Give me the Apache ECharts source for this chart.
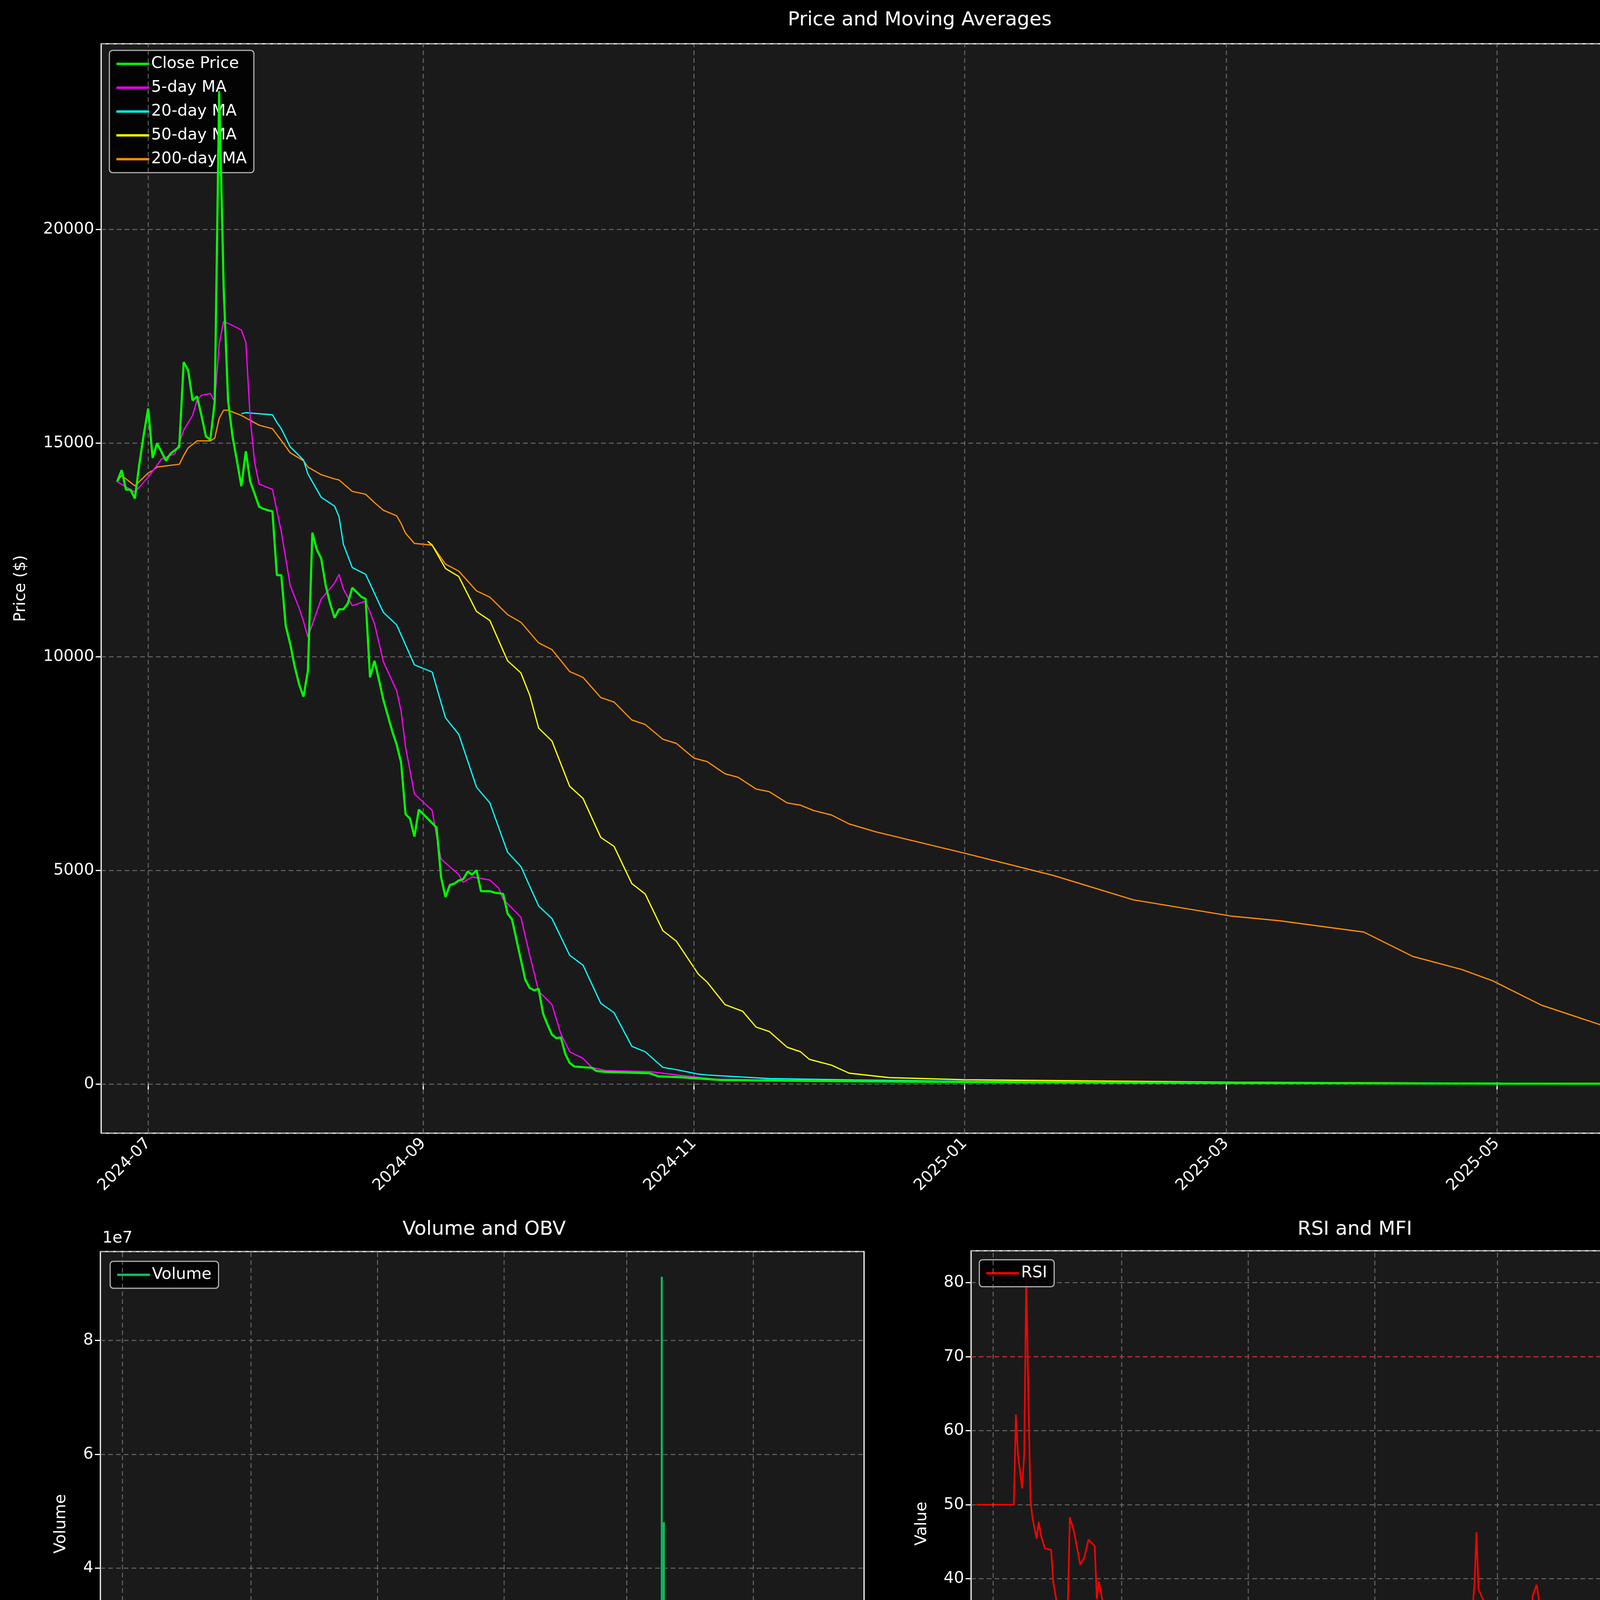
<!DOCTYPE html>
<html>
<head>
<meta charset="utf-8">
<script src="https://cdn.jsdelivr.net/npm/echarts@6/dist/echarts.min.js"></script>
<style>
html, body { margin: 0; padding: 0; background: #000; }
#main { width: 4470px; height: 6507px; }
</style>
</head>
<body>
<div id="main"></div>
<script>
// days counted from 2024-07-01
var DAY0 = Date.UTC(2024, 6, 1);
var tickDates = ['2024-07-01', '2024-09-01', '2024-11-01', '2025-01-01', '2025-03-01', '2025-05-01'];

var closeDay = [-7,-6,-5,-4,-3,-2,-1,0,1,2,3,4,5,6,7,8,9,10,11,12,13,14,15,16,17,18,19,20,21,22,23,24,25,26,27,28,29,30,31,32,33,34,35,36,37,38,39,40,41,42,43,44,45,46,47,48,49,50,51,52,53,54,55,56,57,58,59,60,61,63,65,66,67,68,69,70,71,72,73,74,75,76,77,78,80,81,82,83,84,85,86,87,88,89,90,91,92,93,94,95,96,100,101,103,113,115,120,129,150,170,185,215,245,275,305,335,354];
var closeVal = [14094,14364,13907,13907,13700,14500,15200,15807,14650,14992,14790,14584,14750,14830,14910,16892,16705,15995,16093,15644,15155,15073,15970,23230,18662,15995,15155,14584,13988,14804,14094,13809,13507,13458,13425,13401,11906,11906,10720,10301,9777,9357,9063,9672,12903,12504,12294,11665,11245,10909,11109,11109,11245,11612,11507,11402,11350,9514,9902,9462,8990,8623,8256,7941,7521,6315,6210,5790,6420,6210,6000,4846,4374,4657,4689,4762,4794,4972,4898,5003,4511,4511,4511,4479,4448,3986,3850,3378,2906,2434,2245,2192,2224,1647,1385,1154,1070,1091,703,493,409,378,304,283,252,178,157,94,70,55,45,32,22,15,10,6,5];

var ma5Day = [-7,-3,0,3,6,7,8,10,11,12,14,15,16,17,19,21,22,23,24,25,28,30,32,34,35,36,39,42,43,44,46,49,51,53,56,57,58,60,64,65,66,70,71,73,77,79,80,84,86,88,91,93,95,98,100,103,113,120,128,150,185,245,305,354];
var ma5Val = [14094,13850,14200,14625,14750,14992,15300,15644,16000,16117,16157,15970,17316,17846,17750,17643,17357,15562,14543,14037,13915,12924,11665,11140,10825,10458,11350,11717,11927,11581,11193,11298,10773,9882,9200,8728,7888,6787,6399,5790,5266,4898,4720,4846,4773,4584,4322,3902,3011,2171,1857,1175,755,598,388,315,290,200,110,75,50,25,12,6];

var ma20Day = [21,22,25,28,29,30,32,35,36,39,42,43,44,46,49,53,56,60,64,67,70,74,77,81,84,88,91,95,98,102,105,109,112,116,119,124,126,140,159,185,245,305,354];
var ma20Val = [15685,15709,15685,15660,15481,15334,14910,14600,14274,13728,13523,13279,12626,12084,11927,11035,10742,9808,9640,8570,8182,6944,6577,5423,5088,4164,3871,3011,2780,1888,1668,881,755,388,336,231,210,126,94,60,30,15,8];

var ma50Day = [63,64,67,70,74,77,81,84,86,88,91,95,98,102,105,109,112,116,119,124,126,130,134,137,140,144,147,149,154,158,167,184,245,305,354];
var ma50Val = [12700,12609,12063,11874,11056,10846,9903,9619,9095,8329,8025,6965,6682,5770,5560,4689,4448,3588,3346,2570,2381,1857,1699,1332,1227,860,755,577,441,252,150,100,40,15,5];

var ma200Day = [-7,-6,-3,0,1,2,7,8,9,11,14,15,16,17,18,21,25,28,30,32,35,36,39,42,43,46,49,51,53,56,57,58,60,64,67,70,74,77,81,84,88,91,95,98,102,105,109,112,116,119,123,126,130,133,137,140,144,147,150,154,158,164,184,204,222,244,255,274,285,296,303,314,325,336,347,354];
var ma200Val = [14094,14240,13996,14298,14355,14437,14502,14706,14886,15049,15049,15114,15579,15766,15766,15644,15416,15334,15057,14771,14584,14437,14257,14159,14135,13866,13800,13605,13425,13295,13116,12887,12650,12609,12168,12000,11539,11392,10983,10804,10322,10165,9651,9514,9042,8937,8518,8413,8067,7972,7626,7542,7259,7175,6902,6839,6577,6525,6399,6294,6084,5900,5400,4880,4310,3930,3820,3555,2985,2680,2415,1845,1465,1085,785,520];

var volDay = [196,198,199,221,224,225,226,227,228,232,233,234,235,238,239,240,242,245,247,248,254,255,256,259,260,261,262,263,266,267,270,279,282,283,284,287,288,290,294,308,309,310,323,339,345];
var volVal = [3e5,5.5e5,1.1e6,4e5,6e5,7e5,7e5,6.5e5,4e5,3.8e6,2.4e6,7e5,1e6,4.5e5,3e5,4e5,5e5,3e5,7e5,5e5,4e5,5e5,9.5e5,7e5,9.12e7,4.81e7,1.72e7,1e6,7e5,4e5,3e5,4e5,2.7e6,4e5,5e5,4.1e6,3e5,7e5,4e5,1.1e6,8e5,2e5,2e5,2e5,2e5];

var rsiDay = [-8,10,11,12,14,15,16,17,18,19,21,22,23,25,28,29,31,33,35,36,37,39,42,44,46,49,50,51,53,55,57,59,60,63,65,66,67,69,71,73,74,78,80,82,84,86,87,88,91,92,94,98,105,111,115,120,127,130,132,137,141,145,147,149,151,153,157,158,162,165,168,170,172,176,178,182,183,186,190,191,193,196,198,200,204,206,207,209,211,214,217,218,220,222,224,226,228,229,232,233,234,236,238,239,240,242,244,246,247,248,250,252,253,254,256,259,260,262,264,267,269,270,274,276,278,282,285,289,290,294,295,301,302,304,308,310,312,316,317,319,323,325,326,331,333,336,337,338,339,341,343,346,347,350,352,354];
var rsiVal = [50,50,62.2,56.8,52.2,56.8,81,64.8,50.7,48.2,45.4,47.7,45.9,44.1,43.9,39.6,36.3,34,32.1,36.1,48.3,46.4,41.9,42.9,45.3,44.4,37.3,39.6,36.6,33.5,31.3,27,31.3,30,26.5,25.7,27.6,28.5,30,30.8,29,28.7,26.5,24.4,21.7,19.9,20.2,18.4,16.9,17.3,15.5,15.3,15,15.4,14.8,14.6,14.3,13.9,14.2,14.1,14.8,16.4,18.1,17.6,19.4,19.4,19.1,19.5,19.9,20.4,19.4,17.9,16.4,16.4,17.6,18.6,19.1,21.9,21.2,19.6,20.2,19.4,18,19.9,18.6,18,19.9,19.1,21.7,20.9,22.2,20.5,19.4,20.9,27.7,25.2,21.4,29,39.1,46.3,38.6,37.3,36.3,34.3,35.7,32.5,30.8,29.6,33.8,32.3,33,34,36.3,35.6,26.5,26,37.6,39.2,35.6,34.6,33.8,32,31.3,34.8,32.8,30.3,29.5,28.7,30.3,29.8,30.3,30.3,29.6,30.8,30.6,28.5,28,29.2,28.4,29.5,32.5,33.5,32.8,31.8,29.2,28,33,34,32.3,35.3,34.8,33.5,32.3,32.3,34.1,31.8];

var macdDay = [-7,28.2,28.7,30,30.9,31.9,33,34.6,35.9,37.3,39.1,42,43.9,46,48.7,50,52.2,54,55.9,57.2,58.5,59.9,63.9,65.2,66.8,69.7,71.8,73.2,77.2,79.3,80.9,83.8,86,89.9,93.7,97.9,101.7,104.6,106.4,108.6,111.5,113.4,115.5,118.4,120.8,122.4,125.9,127.7,129.6,132.5,134.4,136.5,140,143.7,146.4,149,152.5,157,160.5,164.5,168.4,173.8,180.4,187,199,215,242.4,303,353.4];
var macdVal = [0,0,-410,-585,-803,-1012,-1120,-1254,-1354,-1137,-995,-1028,-995,-920,-869,-986,-1120,-1220,-1287,-1455,-1705,-1764,-1822,-1973,-2077,-2077,-1956,-1873,-1822,-1689,-1635,-1680,-1764,-1822,-1876,-1843,-1639,-1575,-1455,-1287,-1212,-1070,-961,-911,-803,-711,-669,-585,-518,-485,-418,-368,-348,-259,-242,-204,-181,-134,-122,-89,-70,-59,-42,-33,-20,-12,-5,-1,0];

var signalDay = [-7,38.3,38.9,42,44.2,46,49.2,52.2,54.5,56.1,58,59.9,62,63.9,65.5,66.5,69.2,71.8,73.2,77.2,79.3,81.2,84.6,87.3,91.3,93.9,98.5,101.7,104.6,106.4,108.6,111.5,113.4,115.5,118.4,120.8,122.4,125.1,127.7,129.6,132.5,134.6,136.8,140,143.7,146.4,149,152.5,157,160.5,164.5,168.4,173.8,180.4,187,199,215,242.4,303,353.4];
var signalVal = [0,0,-966,-981,-995,-970,-953,-1017,-1053,-1087,-1321,-1413,-1455,-1493,-1672,-1756,-1822,-1889,-1893,-1873,-1797,-1756,-1742,-1756,-1772,-1822,-1831,-1756,-1722,-1647,-1513,-1455,-1371,-1204,-1145,-1053,-923,-869,-752,-686,-649,-569,-507,-468,-359,-343,-293,-259,-192,-176,-134,-100,-84,-67,-50,-33,-20,-8,-2,0];

var vwapDay = [-7,-6,-3,0,7,8,14,15,16,21,30,36,37,44,55,62,65,79,81,84,87,89,91,93,94,99,105,106,113,121,124,140,167,178,195,208,236,263,354];
var vwapVal = [14256,14430,14007,15003,15127,15749,15823,23089,23200,22840,22715,22600,16993,16744,16670,16570,16371,16247,15674,15376,14878,13634,12888,6170,1692,1443,1393,1120,945,821,697,572,497,448,199,149,75,25,0];

var bbUpDay = [-7,14,16,20,25,29,33,40,44,48,52,56,59,63,65,69,79,82,86,90,93,96,99,102,105,107,109,111,114,116,118,121,124,129,140,154,167,181,192,201,208,216,225,244,263,354];
var bbUpVal = [23263,23263,25328,26695,27070,26820,26572,26074,25826,25328,23586,22093,20600,19481,16993,16918,16744,16918,17117,17739,22342,22840,23462,23089,22467,21098,18610,17490,14878,9902,7414,1692,1443,1194,896,746,697,647,746,697,572,274,199,149,75,25];

var bbLoDay = [-7,21,24,26,29,32,35,37,40,43,44,47,51,55,57,61,63,65,69,79,84,89,93,96,99,102,105,107,109,112,114,116,118,121,126,140,154,167,181,195,208,354];
var bbLoVal = [10027,10027,10773,11395,12141,13509,13883,14878,15624,16072,15127,14381,13435,13336,13634,14505,14629,16371,16371,16122,15624,14132,8658,3682,-50,-2787,-3782,-5026,-5897,-6145,-5523,-4031,-3035,697,647,746,672,572,299,149,75,0];

function ts(d) { return DAY0 + d * 86400000; }
function pairs(days, vals) {
	var arr = [];
	for (var i = 0; i < Math.min(days.length, vals.length); i++) arr.push([ts(days[i]), vals[i]]);
	return arr;
}

var xMin = ts(-10.6), xMax = ts(357.5);
var tickTs = tickDates.map(function(s) { return Date.parse(s + 'T00:00:00Z'); });
var FONT = 'DejaVu Sans';
var FS = 41;
var GRIDLINE = {color: 'rgba(128,128,128,0.75)', type: [12, 8], width: 2.5};

function minus(v) { return String(v).replace('-', '\u2212'); }

var grids = [
	{left: 259, top: 112, width: 4181, height: 2789},
	{left: 257, top: 3204, width: 1955, height: 1394},
	{left: 2486, top: 3202, width: 1955, height: 1397},
	{left: 259, top: 4898, width: 1953, height: 1396},
	{left: 2487, top: 4898, width: 1950, height: 1397}
];
grids.forEach(function(g) {
	g.show = true; g.backgroundColor = '#1a1a1a'; g.borderColor = '#fff'; g.borderWidth = 3;
});

function xAxisFor(i) {
	return {
		type: 'value', gridIndex: i, min: xMin, max: xMax,
		axisLine: {show: false},
		axisTick: {show: true, length: 14, lineStyle: {color: '#fff', width: 3}, customValues: tickTs},
		axisLabel: {
			color: '#fff', fontSize: FS, fontFamily: FONT, rotate: 45, margin: 20,
			customValues: tickTs,
			formatter: function(v) {
				var d = new Date(v);
				var m = d.getUTCMonth() + 1;
				return d.getUTCFullYear() + '-' + (m < 10 ? '0' + m : m);
			}
		},
		splitLine: {show: false}
	};
}

function yAxisFor(i, min, max, split, name, gap, fmt, showMin) {
	return {
		type: 'value', gridIndex: i, min: min, max: max, splitNumber: split,
		name: name, nameLocation: 'middle', nameGap: gap, nameRotate: 90,
		nameTextStyle: {color: '#fff', fontSize: FS, fontFamily: FONT},
		axisLine: {show: false},
		axisTick: {show: true, length: 14, lineStyle: {color: '#fff', width: 3}},
		axisLabel: {color: '#fff', fontSize: FS, fontFamily: FONT, margin: 18,
			showMinLabel: !!showMin, showMaxLabel: false, formatter: fmt || minus},
		splitLine: {show: true, lineStyle: GRIDLINE}
	};
}

function vGrid(i) {
	return {
		name: 'vgrid' + i, type: 'line', xAxisIndex: i, yAxisIndex: i, data: [], silent: true,
		markLine: {
			silent: true, symbol: 'none', label: {show: false}, animation: false,
			lineStyle: GRIDLINE,
			data: tickTs.map(function(t) { return {xAxis: t}; })
		}
	};
}

function line(name, i, data, color, width, extra) {
	var s = {
		name: name, type: 'line', xAxisIndex: i, yAxisIndex: i, data: data,
		showSymbol: false, symbol: 'none', animation: false,
		lineStyle: {color: color, width: width}, itemStyle: {color: color}
	};
	for (var k in extra) s[k] = extra[k];
	return s;
}

function legendAt(left, top, names) {
	return {
		data: names, left: left, top: top, orient: 'vertical',
		backgroundColor: 'rgba(0,0,0,0.85)', borderColor: '#b0b0b0', borderWidth: 3, borderRadius: 8,
		padding: [14, 18], itemGap: 20, itemWidth: 84, itemHeight: 6, icon: 'rect',
		textStyle: {color: '#fff', fontSize: FS, fontFamily: FONT}
	};
}

var upperPts = pairs(bbUpDay, bbUpVal);
var lowerPts = pairs(bbLoDay, bbLoVal);

var chart = echarts.init(document.getElementById('main'));
chart.setOption({
	backgroundColor: '#000',
	animation: false,
	title: [
		{text: 'Price and Moving Averages', left: 259 + 4181 / 2, top: 22, textAlign: 'center'},
		{text: 'Volume and OBV', left: 257 + 1955 / 2, top: 3118, textAlign: 'center'},
		{text: 'RSI and MFI', left: 2486 + 1955 / 2, top: 3118, textAlign: 'center'},
		{text: 'MACD', left: 259 + 1953 / 2, top: 4812, textAlign: 'center'},
		{text: 'VWAP with Bollinger Bands', left: 2487 + 1950 / 2, top: 4812, textAlign: 'center'}
	].map(function(t) {
		t.textStyle = {color: '#fff', fontSize: 50, fontWeight: 'normal', fontFamily: FONT};
		return t;
	}),
	graphic: [{type: 'text', left: 262, top: 3150, style: {text: '1e7', fill: '#fff', fontSize: FS, fontFamily: FONT}}],
	legend: [
		legendAt(280, 129, ['Close Price', '5-day MA', '20-day MA', '50-day MA', '200-day MA']),
		legendAt(282, 3229, ['Volume']),
		legendAt(2507, 3225, ['RSI']),
		legendAt(278, 4920, ['MACD', 'Signal']),
		legendAt(2507, 4920, ['Close Price ', 'VWAP', 'VWAP BB Upper', 'VWAP BB Lower'])
	],
	grid: grids,
	xAxis: [0, 1, 2, 3, 4].map(xAxisFor),
	yAxis: [
		yAxisFor(0, -1152, 24342, 5, 'Price ($)', 185, null, false),
		yAxisFor(1, 0, 9.56e7, 5, 'Volume', 80, function(v) { return String(Math.round(v / 1e7)); }, true),
		yAxisFor(2, 10.6, 84.3, 5, 'Value', 105, null, false),
		yAxisFor(3, -2182, 105, 5, 'Value', 190, null, false),
		yAxisFor(4, -7826, 28497, 7, 'Price ($)', 190, null, false)
	],
	series: [
		vGrid(0), vGrid(1), vGrid(2), vGrid(3), vGrid(4),
		line('Close Price', 0, pairs(closeDay, closeVal), '#00ff00', 5.5, {z: 6}),
		line('5-day MA', 0, pairs(ma5Day, ma5Val), '#ff00ff', 3.2, {z: 5}),
		line('20-day MA', 0, pairs(ma20Day, ma20Val), '#00ffff', 3.2, {z: 4}),
		line('50-day MA', 0, pairs(ma50Day, ma50Val), '#ffff00', 3.2, {z: 3}),
		line('200-day MA', 0, pairs(ma200Day, ma200Val), '#ff8c00', 3.2, {z: 2}),
		{
			name: 'Volume', type: 'bar', xAxisIndex: 1, yAxisIndex: 1, barWidth: 5,
			data: pairs(volDay, volVal), itemStyle: {color: '#0cbf62'}, animation: false
		},
		line('RSI', 2, pairs(rsiDay, rsiVal), '#ff0000', 4.2, {
			markLine: {
				silent: true, symbol: 'none', label: {show: false},
				data: [
					{yAxis: 70, lineStyle: {color: 'rgba(255,0,0,0.5)', type: [12, 8], width: 3.5}},
					{yAxis: 30, lineStyle: {color: 'rgba(0,160,0,0.5)', type: [12, 8], width: 3.5}}
				]
			}
		}),
		line('MACD', 3, pairs(macdDay, macdVal), '#ff8c00', 5, {z: 4}),
		line('Signal', 3, pairs(signalDay, signalVal), '#18ff8c', 5, {z: 3}),
		{
			name: 'band', type: 'custom', xAxisIndex: 4, yAxisIndex: 4, data: [[xMin, 0]], silent: true, z: 1,
			renderItem: function(params, api) {
				var pts = [];
				upperPts.forEach(function(p) { pts.push(api.coord(p)); });
				for (var i = lowerPts.length - 1; i >= 0; i--) pts.push(api.coord(lowerPts[i]));
				return {type: 'polygon', shape: {points: pts}, style: {fill: 'rgba(128,128,128,0.12)', stroke: 'none'}};
			}
		},
		line('Close Price ', 4, pairs(closeDay, closeVal), '#0a9a0a', 4, {z: 3}),
		line('VWAP', 4, pairs(vwapDay, vwapVal), '#ff00ff', 5.5, {z: 5}),
		line('VWAP BB Upper', 4, upperPts, 'rgba(178,54,40,0.75)', 3, {z: 2}),
		line('VWAP BB Lower', 4, lowerPts, 'rgba(40,160,40,0.75)', 3, {z: 2})
	]
});
</script>
</body>
</html>
